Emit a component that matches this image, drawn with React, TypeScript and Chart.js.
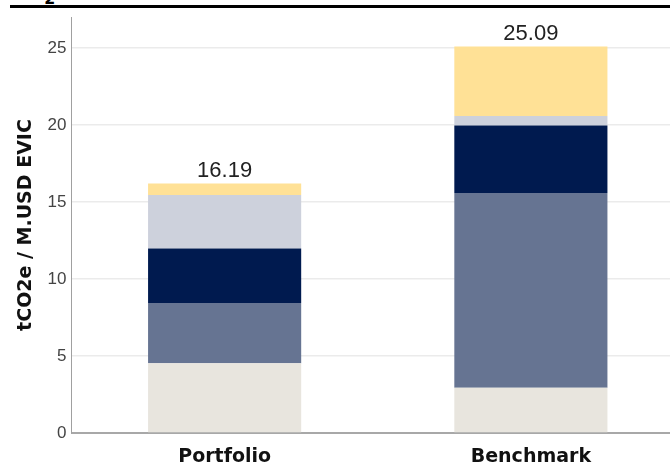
import { useEffect, useRef } from "react";
import { Chart, registerables } from "chart.js";

Chart.register(...registerables);

const categories = ["Portfolio", "Benchmark"];
const seriesNames = ["Segment 1", "Segment 2", "Segment 3", "Segment 4", "Segment 5"];
const segment1 = [4.52, 2.93];
const segment2 = [3.91, 12.65];
const segment3 = [3.54, 4.37];
const segment4 = [3.48, 0.63];
const segment5 = [0.74, 4.51];
const seriesColors = ["#E8E5DE", "#667492", "#001A4F", "#CDD1DC", "#FFE196"];
const yMin = 0;
const yMax = 27;
const yStep = 5;
const yTitle = "tCO2e / M.USD EVIC";

const totalsPlugin = {
  id: "totals",
  afterDatasetsDraw(chart: any) {
    const { ctx, scales } = chart;
    const ds = chart.data.datasets;
    ctx.save();
    ctx.font = "22px 'Liberation Sans', Arial, sans-serif";
    ctx.fillStyle = "#222";
    ctx.textAlign = "center";
    ctx.textBaseline = "alphabetic";
    categories.forEach((_, i) => {
      let sum = 0;
      ds.forEach((d: any) => (sum += d.data[i]));
      const x = scales.x.getPixelForValue(i);
      const y = scales.y.getPixelForValue(sum);
      ctx.fillText(sum.toFixed(2), x, y - 6.5);
    });
    ctx.restore();
  },
};

export default function App() {
  const ref = useRef<HTMLCanvasElement>(null);
  useEffect(() => {
    if (!ref.current) return;
    const all = [segment1, segment2, segment3, segment4, segment5];
    const chart = new Chart(ref.current, {
      type: "bar",
      data: {
        labels: categories,
        datasets: all.map((data, i) => ({
          label: seriesNames[i],
          data,
          backgroundColor: seriesColors[i],
          borderWidth: 0,
          categoryPercentage: 1,
          barPercentage: 0.5,
          stack: "s",
        })),
      },
      options: {
        animation: false,
        responsive: false,
        devicePixelRatio: 1,
        layout: { padding: { top: 17, right: 6, left: 0, bottom: 0 } },
        plugins: {
          legend: { display: false },
          tooltip: { enabled: false },
          title: { display: false },
        },
        scales: {
          x: {
            stacked: true,
            grid: { display: false, drawTicks: false },
            border: { display: true, color: "#a8a8a8", width: 2 },
            ticks: {
              padding: 13,
              color: "#111",
              font: { family: "'DejaVu Sans'", size: 19, weight: "bold" },
            },
            afterFit: (s: any) => {
              s.height = 31;
            },
          },
          y: {
            stacked: true,
            min: yMin,
            max: yMax,
            grid: { color: "#ebebeb", lineWidth: 1.5, drawTicks: false },
            border: { display: true, color: "#a0a0a0", width: 1 },
            ticks: {
              stepSize: yStep,
              includeBounds: false,
              padding: 5,
              color: "#444",
              font: { family: "'Liberation Sans'", size: 17 },
            },
            title: {
              display: true,
              text: yTitle,
              color: "#111",
              padding: { top: 15, bottom: 0 },
              font: { family: "'DejaVu Sans'", size: 19, weight: "bold" },
            },
            afterFit: (s: any) => {
              s.width = 71.5;
            },
          },
        },
      },
      plugins: [totalsPlugin],
    });
    return () => chart.destroy();
  }, []);

  return (
    <div
      style={{
        position: "absolute",
        left: 0,
        top: 0,
        width: 670,
        height: 464,
        overflow: "hidden",
        background: "#fff",
      }}
    >
      <div
        style={{
          position: "absolute",
          left: 5,
          top: -17,
          font: "bold 19px 'DejaVu Sans'",
          lineHeight: "19px",
          whiteSpace: "nowrap",
          color: "#000",
        }}
      >
        tCO<sub>2</sub>e
      </div>
      <div
        style={{
          position: "absolute",
          left: 10,
          top: 5,
          width: 660,
          height: 3,
          background: "#000",
        }}
      />
      <canvas
        ref={ref}
        width={690}
        height={464}
        style={{ position: "absolute", left: 0, top: 0, width: 690, height: 464 }}
      />
    </div>
  );
}
